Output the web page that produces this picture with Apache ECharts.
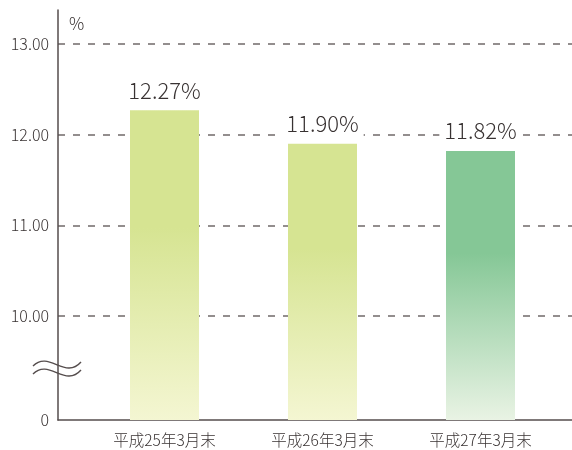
<!DOCTYPE html>
<html>
<head>
<meta charset="utf-8">
<script src="https://cdn.jsdelivr.net/npm/echarts@6/dist/echarts.min.js"></script>
<style>html,body{margin:0;padding:0;background:#fff;}#c{width:572px;height:450px;}</style>
</head>
<body>
<div id="c"></div>
<script>
const categories = ['平成25年3月末', '平成26年3月末', '平成27年3月末'];
const ratios = [12.27, 11.90, 11.82];
const tickValues = [10, 11, 12, 13];
const axisBottom = 8.853; // shown as "0" (broken axis)
const axisTop = 13.375;

const font = '"Noto Sans CJK JP", "Noto Sans", sans-serif';
const textColor = '#383232';
const axisColor = '#554d4d';

function grad(top, bottom) {
  return {type: 'linear', x: 0, y: 0, x2: 0, y2: 1, colorStops: [
    {offset: 0, color: top},
    {offset: 0.38, color: top},
    {offset: 1, color: bottom}
  ]};
}
const barColors = [
  grad('#d6e492', '#f4f6d2'),
  grad('#d6e492', '#f4f6d2'),
  grad('#85c796', '#e9f3e4')
];

const chart = echarts.init(document.getElementById('c'));
chart.setOption({
  animation: false,
  backgroundColor: '#fff',
  textStyle: {fontFamily: font, fontWeight: 300},
  grid: [
    {left: 58, right: 0, top: 10, bottom: 30},
    {left: 85.5, right: 12.5, top: 10, bottom: 30}
  ],
  xAxis: [
    {gridIndex: 0, type: 'value', min: 0, max: 1,
     axisLine: {show: true, lineStyle: {color: axisColor, width: 1.5}},
     axisTick: {show: false}, axisLabel: {show: false}, splitLine: {show: false}},
    {gridIndex: 1, type: 'category', data: categories,
     axisLine: {show: false}, axisTick: {show: false},
     axisLabel: {color: textColor, fontSize: 15.5, margin: 12, fontFamily: font, fontWeight: 300}}
  ],
  yAxis: [
    {gridIndex: 0, type: 'value', min: axisBottom, max: axisTop,
     name: '%', nameLocation: 'end', nameGap: -22,
     nameTextStyle: {color: textColor, fontSize: 17, align: 'left', padding: [0, 0, 0, 11], fontFamily: font, fontWeight: 300},
     axisLine: {show: true, lineStyle: {color: axisColor, width: 1.5}},
     axisTick: {show: false, customValues: tickValues},
     axisLabel: {color: textColor, fontSize: 16, margin: 9, fontFamily: font, fontWeight: 300,
       customValues: [axisBottom].concat(tickValues),
       formatter: v => v < 9 ? '0' : v.toFixed(2)},
     splitLine: {show: true, lineStyle: {color: '#706a6a', width: 1.5, type: [7, 8]}}},
    {gridIndex: 1, type: 'value', min: axisBottom, max: axisTop, show: false, splitLine: {show: false}}
  ],
  series: [{
    type: 'bar',
    xAxisIndex: 1, yAxisIndex: 1,
    barWidth: 69,
    data: ratios.map((v, i) => ({value: v, itemStyle: {color: barColors[i]}})),
    label: {
      show: true, position: 'top', distance: 6,
      color: textColor, fontSize: 22, fontFamily: font, fontWeight: 300,
      backgroundColor: '#fff', padding: [0, 5, 3, 5],
      formatter: p => p.value.toFixed(2) + '%'
    },
    z: 3
  }],
  graphic: [
    {type: 'bezierCurve', z: 10,
     shape: {x1: 33, y1: 366, cpx1: 49, cpy1: 350, cpx2: 65, cpy2: 380, x2: 81, y2: 362},
     style: {fill: 'none', stroke: axisColor, lineWidth: 1.4}},
    {type: 'bezierCurve', z: 10,
     shape: {x1: 33, y1: 374, cpx1: 49, cpy1: 358, cpx2: 65, cpy2: 388, x2: 81, y2: 370},
     style: {fill: 'none', stroke: axisColor, lineWidth: 1.4}}
  ]
});
</script>
</body>
</html>
